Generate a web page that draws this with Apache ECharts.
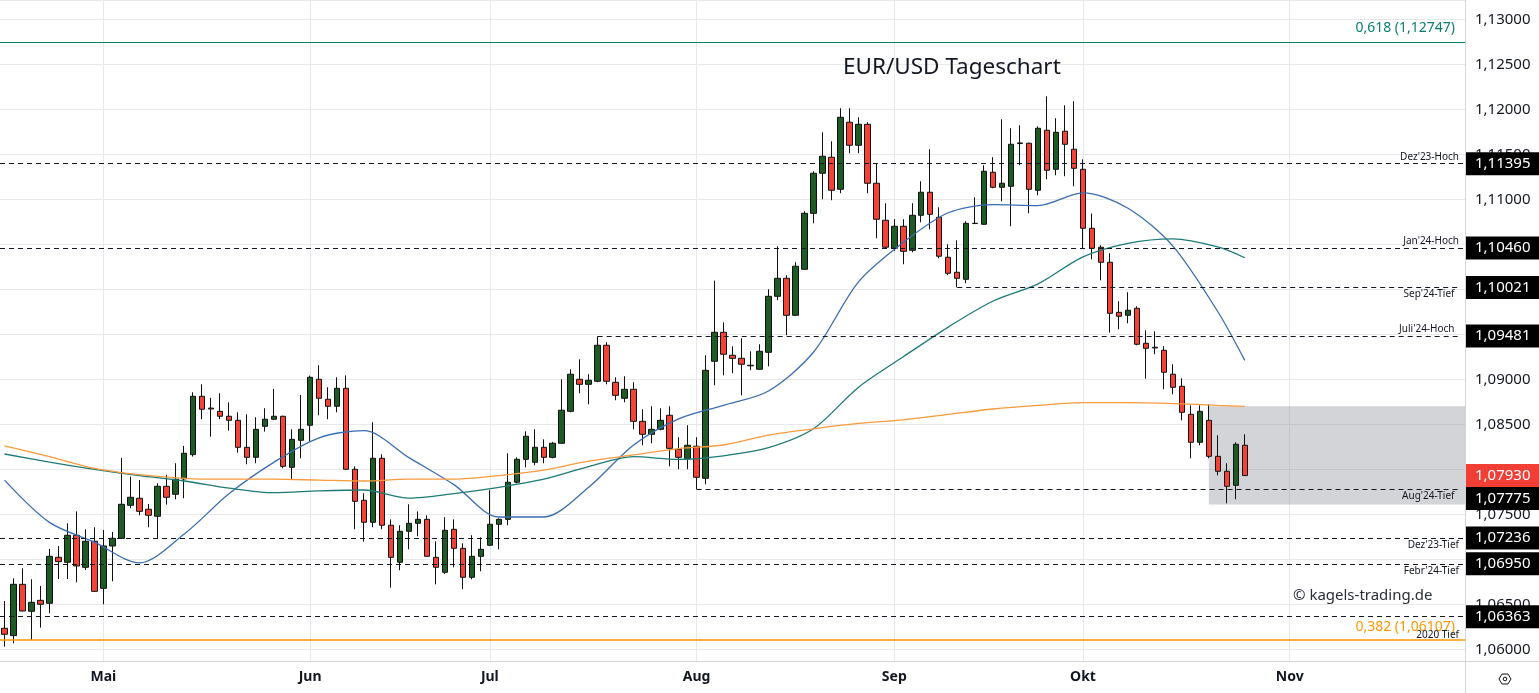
<!DOCTYPE html>
<html>
<head>
<meta charset="utf-8">
<title>EUR/USD Tageschart</title>
<script src="https://cdn.jsdelivr.net/npm/echarts@6.0.0/dist/echarts.min.js"></script>
<style>
  html, body { margin: 0; padding: 0; background: #fff; }
  #chart { width: 1539px; height: 693px; }
</style>
</head>
<body>
<div id="chart"></div>
<script>
// trading days, first candle 16.04.2024, empty space to the right
var firstDay = '2024-04-16';
var slotCount = 163;
var monthNames = ['Jan', 'Feb', 'Mär', 'Apr', 'Mai', 'Jun', 'Jul', 'Aug', 'Sep', 'Okt', 'Nov', 'Dez'];

// daily candles: [open, high, low, close]
var ohlc = [
  // April
  [1.06233, 1.06537, 1.06030, 1.06167], [1.06152, 1.06789, 1.06067, 1.06722], [1.06722, 1.06900, 1.06420, 1.06426],
  [1.06422, 1.06778, 1.06104, 1.06522], [1.06544, 1.06704, 1.06241, 1.06500], [1.06511, 1.07115, 1.06400, 1.07033],
  [1.07022, 1.07148, 1.06781, 1.06974], [1.06967, 1.07400, 1.06781, 1.07267], [1.07267, 1.07533, 1.06744, 1.06926],
  [1.06911, 1.07333, 1.06881, 1.07200], [1.07200, 1.07356, 1.06637, 1.06644],
  // Mai
  [1.06678, 1.07326, 1.06500, 1.07148], [1.07148, 1.07304, 1.06756, 1.07233], [1.07233, 1.08126, 1.07230, 1.07611],
  [1.07600, 1.07919, 1.07567, 1.07689], [1.07678, 1.07881, 1.07489, 1.07533], [1.07556, 1.07615, 1.07356, 1.07489],
  [1.07478, 1.07844, 1.07233, 1.07811], [1.07811, 1.07940, 1.07607, 1.07689], [1.07722, 1.08067, 1.07667, 1.07889],
  [1.07893, 1.08260, 1.07678, 1.08178], [1.08163, 1.08856, 1.08141, 1.08811], [1.08811, 1.08944, 1.08556, 1.08667],
  [1.08680, 1.08793, 1.08363, 1.08670], [1.08644, 1.08844, 1.08556, 1.08589], [1.08589, 1.08744, 1.08430, 1.08544],
  [1.08544, 1.08633, 1.08185, 1.08244], [1.08244, 1.08611, 1.08056, 1.08133], [1.08133, 1.08578, 1.08067, 1.08444],
  [1.08478, 1.08678, 1.08419, 1.08556], [1.08556, 1.08893, 1.08548, 1.08589], [1.08589, 1.08596, 1.08011, 1.08033],
  [1.08022, 1.08444, 1.07881, 1.08333], [1.08322, 1.08826, 1.08122, 1.08444],
  // Juni
  [1.08489, 1.09041, 1.08311, 1.09022], [1.09000, 1.09156, 1.08600, 1.08789], [1.08778, 1.08911, 1.08556, 1.08700],
  [1.08700, 1.09022, 1.08633, 1.08900], [1.08900, 1.09044, 1.07993, 1.08000], [1.08000, 1.08033, 1.07333, 1.07644],
  [1.07656, 1.07733, 1.07196, 1.07411], [1.07411, 1.08522, 1.07356, 1.08122], [1.08122, 1.08167, 1.07333, 1.07378],
  [1.07378, 1.07444, 1.06685, 1.07022], [1.06967, 1.07378, 1.06878, 1.07311], [1.07311, 1.07611, 1.07111, 1.07400],
  [1.07400, 1.07533, 1.07256, 1.07444], [1.07444, 1.07489, 1.07030, 1.07033], [1.07022, 1.07200, 1.06722, 1.06911],
  [1.06856, 1.07467, 1.06837, 1.07322], [1.07333, 1.07444, 1.06911, 1.07122], [1.07122, 1.07178, 1.06667, 1.06800],
  [1.06800, 1.07267, 1.06778, 1.07033], [1.07033, 1.07244, 1.06867, 1.07111],
  // Juli
  [1.07156, 1.07767, 1.07148, 1.07389], [1.07389, 1.07456, 1.07111, 1.07444], [1.07444, 1.08178, 1.07378, 1.07856],
  [1.07856, 1.08133, 1.07844, 1.08111], [1.08111, 1.08422, 1.08022, 1.08367], [1.08078, 1.08444, 1.08044, 1.08244],
  [1.08244, 1.08333, 1.08067, 1.08133], [1.08133, 1.08304, 1.08122, 1.08289], [1.08289, 1.09000, 1.08285, 1.08656],
  [1.08644, 1.09111, 1.08633, 1.09056], [1.09000, 1.09222, 1.08844, 1.08944], [1.08944, 1.09056, 1.08722, 1.08989],
  [1.08978, 1.09478, 1.08967, 1.09378], [1.09378, 1.09411, 1.08944, 1.08978], [1.08967, 1.09022, 1.08767, 1.08822],
  [1.08789, 1.09033, 1.08744, 1.08889], [1.08889, 1.08967, 1.08444, 1.08533], [1.08533, 1.08667, 1.08267, 1.08389],
  [1.08389, 1.08700, 1.08289, 1.08444], [1.08444, 1.08678, 1.08433, 1.08544], [1.08600, 1.08700, 1.08033, 1.08233],
  [1.08222, 1.08356, 1.08000, 1.08133], [1.08122, 1.08489, 1.08000, 1.08267],
  // August
  [1.08256, 1.08356, 1.07778, 1.07911], [1.07900, 1.09267, 1.07833, 1.09100], [1.09200, 1.10096, 1.08933, 1.09522],
  [1.09522, 1.09633, 1.09044, 1.09278], [1.09267, 1.09367, 1.09067, 1.09233], [1.09233, 1.09456, 1.08822, 1.09167],
  [1.09156, 1.09311, 1.09100, 1.09150], [1.09111, 1.09389, 1.09104, 1.09311], [1.09300, 1.10000, 1.09144, 1.09922],
  [1.09922, 1.10478, 1.09878, 1.10122], [1.10122, 1.10156, 1.09489, 1.09711], [1.09711, 1.10300, 1.09707, 1.10256],
  [1.10222, 1.10867, 1.10219, 1.10844], [1.10844, 1.11311, 1.10733, 1.11289], [1.11289, 1.11744, 1.11000, 1.11478],
  [1.11467, 1.11644, 1.10989, 1.11100], [1.11111, 1.12011, 1.11067, 1.11911], [1.11856, 1.12011, 1.11511, 1.11600],
  [1.11600, 1.11911, 1.11511, 1.11833], [1.11833, 1.11856, 1.11067, 1.11178], [1.11178, 1.11400, 1.10567, 1.10778],
  [1.10767, 1.10956, 1.10456, 1.10467],
  // September
  [1.10456, 1.10778, 1.10426, 1.10700], [1.10700, 1.10778, 1.10278, 1.10422], [1.10433, 1.10956, 1.10411, 1.10822],
  [1.10822, 1.11200, 1.10744, 1.11078], [1.11078, 1.11556, 1.10667, 1.10833], [1.10800, 1.10911, 1.10344, 1.10367],
  [1.10356, 1.10500, 1.10156, 1.10178], [1.10189, 1.10544, 1.10022, 1.10122], [1.10111, 1.10756, 1.10067, 1.10733],
  [1.10733, 1.11022, 1.10726, 1.10730], [1.10722, 1.11378, 1.10719, 1.11311], [1.11300, 1.11467, 1.11122, 1.11133],
  [1.11133, 1.11889, 1.10978, 1.11178], [1.11144, 1.11789, 1.10700, 1.11611], [1.11626, 1.11822, 1.11378, 1.11619],
  [1.11622, 1.11630, 1.10844, 1.11111], [1.11100, 1.11811, 1.11044, 1.11789], [1.11767, 1.12144, 1.11222, 1.11322],
  [1.11333, 1.11900, 1.11267, 1.11744], [1.11756, 1.12044, 1.11256, 1.11611], [1.11556, 1.12089, 1.11144, 1.11344],
  // Oktober
  [1.11333, 1.11444, 1.10456, 1.10678], [1.10678, 1.10841, 1.10333, 1.10456], [1.10467, 1.10489, 1.10100, 1.10300],
  [1.10300, 1.10400, 1.09519, 1.09733], [1.09744, 1.09867, 1.09556, 1.09700], [1.09711, 1.09967, 1.09622, 1.09767],
  [1.09789, 1.09811, 1.09378, 1.09389], [1.09400, 1.09544, 1.09007, 1.09344], [1.09356, 1.09533, 1.09278, 1.09348],
  [1.09322, 1.09367, 1.08889, 1.09078], [1.09056, 1.09167, 1.08833, 1.08911], [1.08922, 1.09011, 1.08544, 1.08633],
  [1.08611, 1.08711, 1.08122, 1.08300], [1.08300, 1.08711, 1.08267, 1.08644], [1.08544, 1.08722, 1.08122, 1.08144],
  [1.08144, 1.08378, 1.07933, 1.07978], [1.07978, 1.08067, 1.07622, 1.07811], [1.07822, 1.08300, 1.07667, 1.08278],
  [1.08267, 1.08389, 1.07930, 1.07930]
];

// moving averages read every 5th session (plus the last one)
var maStep = 5;
var maFast = [1.0788, 1.0741, 1.0719, 1.0696, 1.0728, 1.0773, 1.0808, 1.0835, 1.0843, 1.0813,
              1.0783, 1.0747, 1.0747, 1.0780, 1.0827, 1.0856, 1.0871, 1.0887, 1.0930, 1.1008,
              1.1052, 1.1085, 1.1094, 1.1093, 1.1107, 1.1090, 1.1048, 1.0975, 1.0921];
var maMid  = [1.0817, 1.0808, 1.0800, 1.0793, 1.0787, 1.0779, 1.0774, 1.0776, 1.0777, 1.0768,
              1.0773, 1.0780, 1.0789, 1.0803, 1.0814, 1.0811, 1.0815, 1.0824, 1.0845, 1.0891,
              1.0925, 1.0958, 1.0987, 1.1006, 1.1036, 1.1051, 1.1056, 1.1047, 1.1035];
var maSlow = [1.0826, 1.0814, 1.0801, 1.0794, 1.0790, 1.0789, 1.0789, 1.0788, 1.0787, 1.0789,
              1.0789, 1.0793, 1.0799, 1.0809, 1.0816, 1.0823, 1.0827, 1.0838, 1.0845, 1.0851,
              1.0855, 1.0861, 1.0867, 1.0871, 1.0874, 1.0874, 1.0873, 1.0871, 1.0870];

// horizontal levels
var levelValues = [1.11395, 1.10460, 1.10021, 1.09481, 1.07775, 1.07236, 1.06950, 1.06363];
var levelNames  = ["Dez'23-Hoch", "Jan'24-Hoch", "Sep'24-Tief", "Juli'24-Hoch", "Aug'24-Tief", "Dez'23-Tief", "Febr'24-Tief", ""];
var levelFrom   = [null, null, '2024-09-11', '2024-07-17', '2024-08-01', null, null, null];
var levelBelow  = [false, false, true, false, true, true, true, false];

var fibHigh = 1.12747, fibHighText = '0,618 (1,12747)';
var fibLow = 1.06107, fibLowText = '0,382 (1,06107)', fibLowNote = '2020 Tief';

var zoneFrom = '2024-10-21', zoneTop = 1.0870, zoneBottom = 1.0761;

// ---------------------------------------------------------------
var categories = [];
var d = new Date(firstDay + 'T00:00:00Z');
while (categories.length < slotCount) {
  var wd = d.getUTCDay();
  if (wd !== 0 && wd !== 6) categories.push(d.toISOString().slice(0, 10));
  d.setUTCDate(d.getUTCDate() + 1);
}
var lastSlot = categories[categories.length - 1];

function isMonthStart(i) {
  return i > 0 && categories[i].slice(5, 7) !== categories[i - 1].slice(5, 7);
}
function fmt(v) { return v.toFixed(5).replace('.', ','); }

var candleData = ohlc.map(function (r) { return [r[0], r[3], r[2], r[1]]; });

function maSeries(vals) {
  return vals.map(function (v, k) {
    var idx = Math.min(k * maStep, ohlc.length - 1);
    return [categories[idx], v];
  });
}

var dashStyle = { color: '#131722', type: [5, 4], width: 1 };
var hidden = { color: 'rgba(0,0,0,0)', width: 0 };

function badge(v, bg, dy) {
  return {
    show: true, position: 'end', distance: 1, formatter: fmt(v),
    color: '#fff', backgroundColor: bg, padding: [4, 10, 3, 9],
    fontSize: 15, lineHeight: 16, offset: [0, dy || 0]
  };
}

var lines = [];
// fibonacci lines first
lines.push({ yAxis: fibHigh, lineStyle: { color: '#0b7d71', type: 'solid', width: 1.2 },
  label: { position: 'insideEndTop', formatter: fibHighText, color: '#0b7d71', fontSize: 14, distance: [10, 7] } });
lines.push({ yAxis: fibLow, lineStyle: { color: '#ff9800', type: 'solid', width: 1.5 },
  label: { position: 'insideEndTop', formatter: fibLowText, color: '#ff9800', fontSize: 14, distance: [10, 6] } });
lines.push({ yAxis: fibLow, lineStyle: hidden,
  label: { position: 'insideEndTop', formatter: fibLowNote, color: '#131722', fontSize: 10, distance: [6, 0] } });

levelValues.forEach(function (v, i) {
  var lab = {
    show: levelNames[i] !== '', formatter: levelNames[i],
    position: levelBelow[i] ? 'insideEndBottom' : 'insideEndTop',
    fontSize: 10, color: '#131722', distance: [6, 2]
  };
  if (levelFrom[i]) {
    lines.push([{ coord: [levelFrom[i], v], lineStyle: dashStyle, label: lab }, { coord: [lastSlot, v] }]);
  } else {
    lines.push({ yAxis: v, lineStyle: dashStyle, label: lab });
  }
  lines.push({ yAxis: v, lineStyle: hidden, label: badge(v, '#000', i === 4 ? 9 : 0) });
});
var lastClose = ohlc[ohlc.length - 1][3];
lines.push({ yAxis: lastClose, lineStyle: hidden, label: badge(lastClose, '#f23f36', 0) });

var myChart = echarts.init(document.getElementById('chart'));

var option = {
  animation: false,
  textStyle: { fontFamily: 'Noto Sans' },
  title: [{
    text: 'EUR/USD Tageschart', left: 843, top: 56, padding: 0,
    textStyle: { fontSize: 22.5, fontWeight: 'normal', color: '#131722' }
  }, {
    text: '© kagels-trading.de', left: 1293, top: 588, padding: 0,
    textStyle: { fontSize: 15, fontWeight: 'normal', color: '#2a2e39' }
  }],
  grid: { left: 0, right: 74, top: 0, bottom: 32 },
  graphic: [
    // axis frame continues below / right of the plot
    { type: 'line', silent: true, shape: { x1: 1465, y1: 661.5, x2: 1539, y2: 661.5 }, style: { stroke: '#d1d4dc', lineWidth: 1 } },
    { type: 'line', silent: true, shape: { x1: 1465.5, y1: 661, x2: 1465.5, y2: 693 }, style: { stroke: '#d1d4dc', lineWidth: 1 } },
    // settings icon
    { type: 'polygon', silent: true,
      shape: { points: [[1499, 679], [1502, 674], [1508, 674], [1511, 679], [1508, 684], [1502, 684]] },
      style: { fill: 'none', stroke: '#131722', lineWidth: 1 } },
    { type: 'circle', silent: true, shape: { cx: 1505, cy: 679, r: 1.8 }, style: { fill: 'none', stroke: '#131722', lineWidth: 1 } }
  ],
  xAxis: {
    type: 'category',
    data: categories,
    boundaryGap: true,
    axisLine: { lineStyle: { color: '#d1d4dc' } },
    axisTick: { show: false },
    axisLabel: {
      interval: function (i) { return isMonthStart(i); },
      formatter: function (v) { return monthNames[parseInt(v.slice(5, 7), 10) - 1]; },
      color: '#131722', fontSize: 14, fontWeight: 'bold', margin: 9
    },
    splitLine: {
      show: true, alignWithLabel: true,
      interval: function (i) { return isMonthStart(i); },
      lineStyle: { color: '#e9e9ec' }
    }
  },
  yAxis: {
    type: 'value',
    position: 'right',
    min: 1.0587,
    max: 1.13214,
    splitNumber: 14,
    minInterval: 0.005,
    maxInterval: 0.005,
    scale: true,
    axisLine: { show: true, lineStyle: { color: '#d1d4dc' } },
    axisTick: { show: false },
    axisLabel: {
      margin: 10, color: '#131722', fontSize: 15,
      showMinLabel: false, showMaxLabel: false,
      formatter: fmt
    },
    splitLine: { lineStyle: { color: '#e9e9ec' } }
  },
  series: [{
    name: 'levels',
    type: 'line',
    data: [],
    z: 1,
    silent: true,
    markLine: { symbol: ['none', 'none'], silent: true, animation: false, precision: 5, data: lines },
    markArea: {
      silent: true,
      itemStyle: { color: 'rgba(120,123,134,0.33)' },
      data: [[{ coord: [zoneFrom, zoneTop] }, { coord: [Infinity, zoneBottom] }]]
    }
  }, {
    name: 'EUR/USD',
    type: 'candlestick',
    z: 2,
    barWidth: 6,
    silent: true,
    data: candleData,
    itemStyle: {
      color: '#1e5b24', color0: '#f44336',
      borderColor: '#111', borderColor0: '#111', borderWidth: 1
    }
  }, {
    name: 'MA fast', type: 'line', z: 3, silent: true, smooth: 0.3, symbol: 'none',
    data: maSeries(maFast), lineStyle: { color: '#3a6db4', width: 1.3 }
  }, {
    name: 'MA mid', type: 'line', z: 3, silent: true, smooth: 0.3, symbol: 'none',
    data: maSeries(maMid), lineStyle: { color: '#1d7a78', width: 1.3 }
  }, {
    name: 'MA slow', type: 'line', z: 3, silent: true, smooth: 0.3, symbol: 'none',
    data: maSeries(maSlow), lineStyle: { color: '#f99a3d', width: 1.3 }
  }]
};

myChart.setOption(option);
</script>
</body>
</html>
